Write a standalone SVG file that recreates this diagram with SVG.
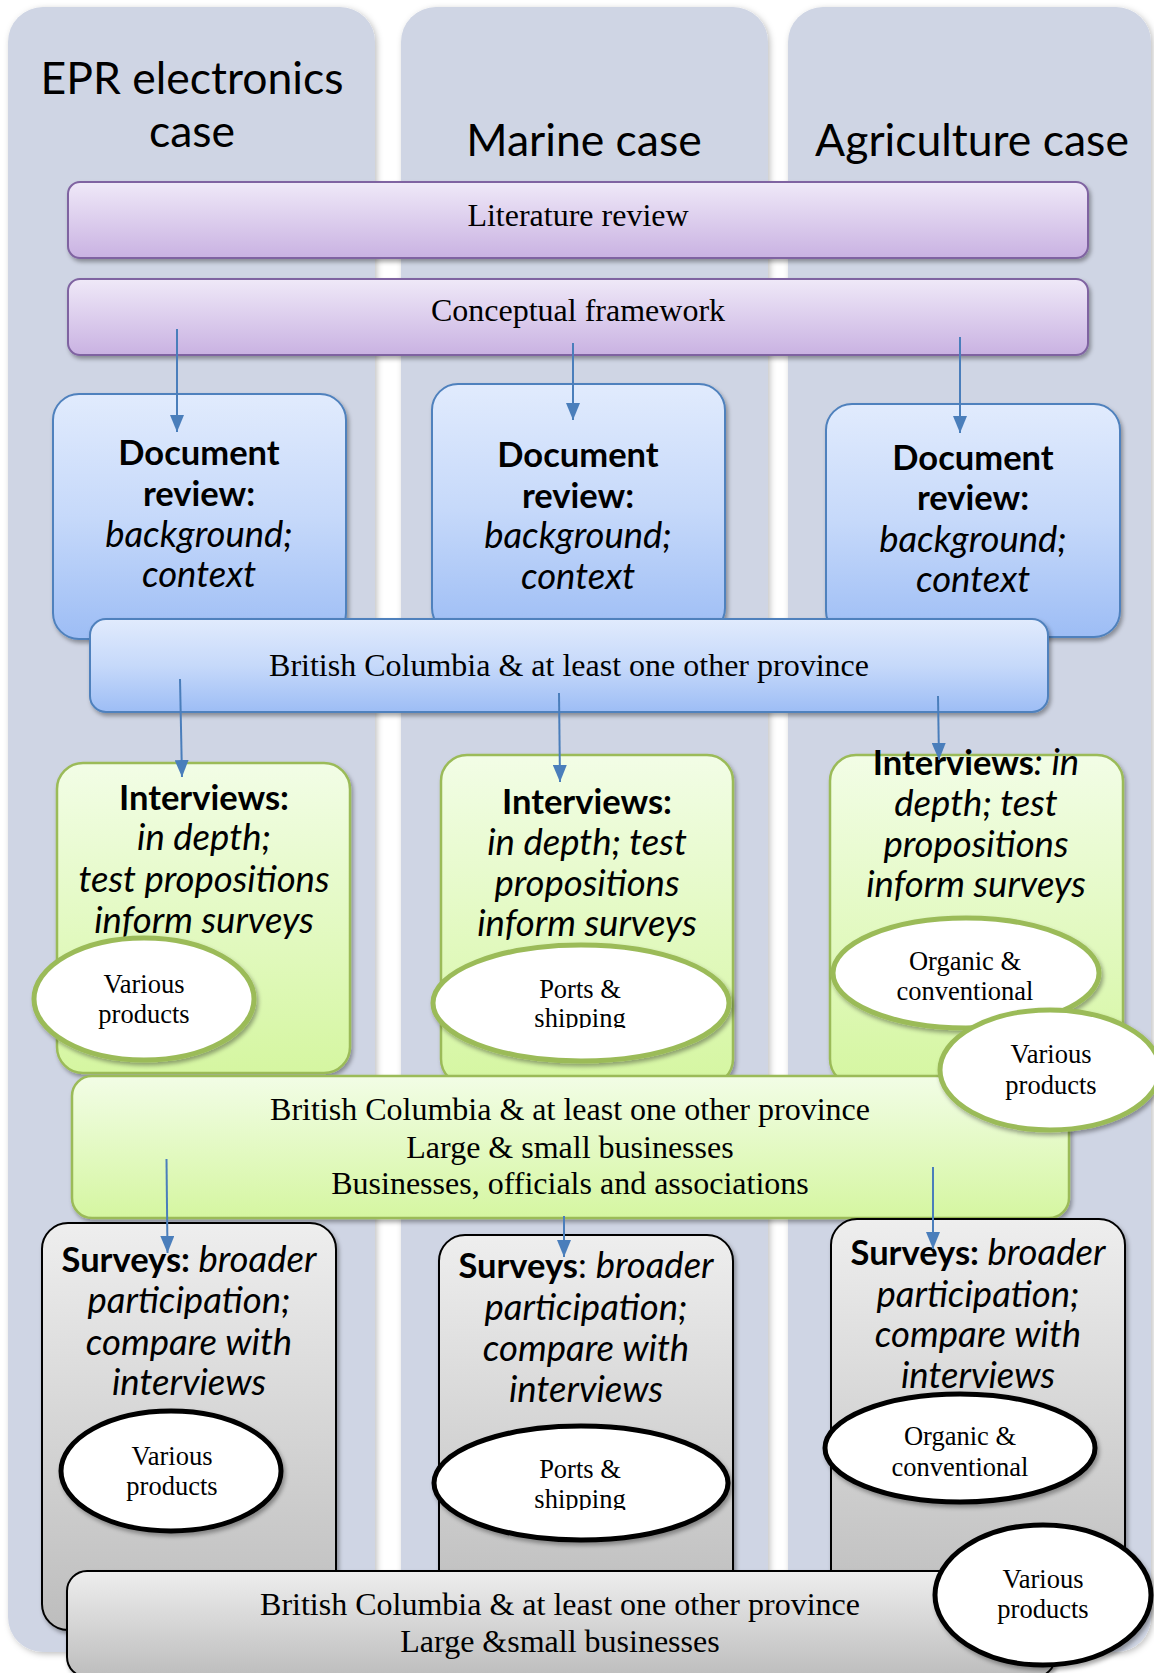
<svg xmlns="http://www.w3.org/2000/svg" width="1154" height="1673" viewBox="0 0 1154 1673">
  <defs>
    <linearGradient id="gPurple" x1="0" y1="0" x2="0" y2="1">
      <stop offset="0" stop-color="#EFE9F8"/>
      <stop offset="1" stop-color="#C9B2E2"/>
    </linearGradient>
    <linearGradient id="gBlue" x1="0" y1="0" x2="0" y2="1">
      <stop offset="0" stop-color="#E1EBFD"/>
      <stop offset="0.5" stop-color="#C6D9FA"/>
      <stop offset="1" stop-color="#9DBDF5"/>
    </linearGradient>
    <linearGradient id="gGreen" x1="0" y1="0" x2="0" y2="1">
      <stop offset="0" stop-color="#F2FDE6"/>
      <stop offset="1" stop-color="#D5F6A1"/>
    </linearGradient>
    <linearGradient id="gGray" x1="0" y1="0" x2="0" y2="1">
      <stop offset="0" stop-color="#EEEEEE"/>
      <stop offset="1" stop-color="#BDBDBD"/>
    </linearGradient>
    <filter id="shadow" x="-5%" y="-5%" width="115%" height="120%">
      <feDropShadow dx="2" dy="3" stdDeviation="2" flood-color="#000" flood-opacity="0.35"/>
    </filter>
    <filter id="colShadow" x="-5%" y="-5%" width="115%" height="110%">
      <feDropShadow dx="2" dy="2" stdDeviation="3" flood-color="#000" flood-opacity="0.25"/>
    </filter>
    <marker id="arrow" markerUnits="userSpaceOnUse" markerWidth="17" markerHeight="14" refX="17" refY="7" orient="auto">
      <path d="M0,0 L17,7 L0,14 z" fill="#4A7EBB"/>
    </marker>
    <clipPath id="clipShipA"><rect x="400" y="940" width="360" height="88"/></clipPath>
    <clipPath id="clipShipB"><rect x="400" y="1420" width="360" height="90"/></clipPath>
    <style>
      .col { fill: #CFD5E4; filter: url(#colShadow); }
      .title { font-family: Lato, "Open Sans", sans-serif; font-size: 44.5px; fill: #000; text-anchor: middle; }
      .purple { fill: url(#gPurple); stroke: #7F63A1; stroke-width: 2; filter: url(#shadow); }
      .blue { fill: url(#gBlue); stroke: #4F81BD; stroke-width: 2; filter: url(#shadow); }
      .green { fill: url(#gGreen); stroke: #9BBB59; stroke-width: 2.5; filter: url(#shadow); }
      .gray { fill: url(#gGray); stroke: #000; stroke-width: 2; filter: url(#shadow); }
      .ovG { fill: #fff; stroke: #9BBB59; stroke-width: 5; filter: url(#shadow); }
      .ovK { fill: #fff; stroke: #000; stroke-width: 5; filter: url(#shadow); }
      .serif { font-family: "Liberation Serif", "Times New Roman", serif; font-size: 32px; fill: #000; text-anchor: middle; }
      .oval { font-family: "Liberation Serif", "Times New Roman", serif; font-size: 26.5px; fill: #000; text-anchor: middle; }
      .cal { font-family: Lato, "Open Sans", sans-serif; font-size: 35px; fill: #000; text-anchor: middle; }
      .b { font-weight: bold; font-size: 34.5px; }
      .i { font-style: italic; font-size: 36.5px; }
      .conn line { stroke: #4A7EBB; stroke-width: 2; marker-end: url(#arrow); }
    </style>
  </defs>

  <rect width="1154" height="1673" fill="#fff"/>

  <!-- case columns -->
  <g id="col-epr">
    <rect class="col" x="8" y="7" width="367" height="1645" rx="35"/>
    <text class="title" x="192" y="94">EPR electronics</text>
    <text class="title" x="192" y="147">case</text>
  </g>
  <g id="col-marine">
    <rect class="col" x="401" y="7" width="367" height="1645" rx="35"/>
    <text class="title" x="584" y="156">Marine case</text>
  </g>
  <g id="col-agri">
    <rect class="col" x="788" y="7" width="363" height="1645" rx="35"/>
    <text class="title" x="972" y="156">Agriculture case</text>
  </g>

  <!-- shared stages -->
  <g id="literature-review">
    <rect class="purple" x="68" y="182" width="1020" height="76" rx="12"/>
    <text class="serif" x="578" y="226">Literature review</text>
  </g>
  <g id="conceptual-framework">
    <rect class="purple" x="68" y="279" width="1020" height="76" rx="12"/>
    <text class="serif" x="578" y="321">Conceptual framework</text>
  </g>

  <!-- document review -->
  <g id="doc-epr">
    <rect class="blue" x="53" y="394" width="293" height="245" rx="26"/>
    <text class="cal b" x="199" y="465">Document</text>
    <text class="cal b" x="199" y="506">review:</text>
    <text class="cal i" x="199" y="547">background;</text>
    <text class="cal i" x="199" y="587">context</text>
  </g>
  <g id="doc-marine">
    <rect class="blue" x="432" y="384" width="293" height="250" rx="26"/>
    <text class="cal b" x="578" y="467">Document</text>
    <text class="cal b" x="578" y="508">review:</text>
    <text class="cal i" x="578" y="548">background;</text>
    <text class="cal i" x="578" y="589">context</text>
  </g>
  <g id="doc-agri">
    <rect class="blue" x="826" y="404" width="294" height="233" rx="26"/>
    <text class="cal b" x="973" y="470">Document</text>
    <text class="cal b" x="973" y="510">review:</text>
    <text class="cal i" x="973" y="552">background;</text>
    <text class="cal i" x="973" y="592">context</text>
  </g>
  <g id="scope-docs">
    <rect class="blue" x="90" y="619" width="958" height="93" rx="16"/>
    <text class="serif" x="569" y="676">British Columbia &amp; at least one other province</text>
  </g>

  <!-- interviews -->
  <g id="int-epr">
    <rect class="green" x="57" y="763" width="293" height="310" rx="26"/>
    <text class="cal b" x="204" y="810">Interviews:</text>
    <text class="cal i" x="204" y="850">in depth;</text>
    <text class="cal i" x="204" y="892">test propositions</text>
    <text class="cal i" x="204" y="933">inform surveys</text>
  </g>
  <g id="int-marine">
    <rect class="green" x="441" y="755" width="292" height="330" rx="26"/>
    <text class="cal b" x="587" y="814">Interviews:</text>
    <text class="cal i" x="587" y="855">in depth; test</text>
    <text class="cal i" x="587" y="896">propositions</text>
    <text class="cal i" x="587" y="936">inform surveys</text>
  </g>
  <g id="int-agri">
    <rect class="green" x="830" y="755" width="293" height="330" rx="26"/>
    <text class="cal" x="976" y="775"><tspan class="b">Interviews</tspan><tspan class="i">: in</tspan></text>
    <text class="cal i" x="976" y="816">depth; test</text>
    <text class="cal i" x="976" y="857">propositions</text>
    <text class="cal i" x="976" y="897">inform surveys</text>
  </g>
  <g id="int-epr-products">
    <ellipse class="ovG" cx="144" cy="999" rx="110" ry="61"/>
    <text class="oval" x="144" y="993">Various</text>
    <text class="oval" x="144" y="1023">products</text>
  </g>
  <g id="int-marine-ports">
    <ellipse class="ovG" cx="581" cy="1003" rx="148" ry="58"/>
    <g clip-path="url(#clipShipA)">
      <text class="oval" x="580" y="998">Ports &amp;</text>
      <text class="oval" x="580" y="1027">shipping</text>
    </g>
  </g>
  <g id="int-agri-organic">
    <ellipse class="ovG" cx="966" cy="973" rx="133" ry="55"/>
    <text class="oval" x="965" y="970">Organic &amp;</text>
    <text class="oval" x="965" y="1000">conventional</text>
  </g>
  <g id="scope-interviews">
    <rect class="green" x="72" y="1076" width="997" height="142" rx="20"/>
    <text class="serif" x="570" y="1120">British Columbia &amp; at least one other province</text>
    <text class="serif" x="570" y="1158">Large &amp; small businesses</text>
    <text class="serif" x="570" y="1194">Businesses, officials and associations</text>
  </g>
  <g id="int-agri-products">
    <ellipse class="ovG" cx="1050" cy="1070" rx="110" ry="60"/>
    <text class="oval" x="1051" y="1063">Various</text>
    <text class="oval" x="1051" y="1094">products</text>
  </g>

  <!-- surveys -->
  <g id="srv-epr">
    <rect class="gray" x="42" y="1223" width="294" height="407" rx="26"/>
    <text class="cal" x="189" y="1272"><tspan class="b">Surveys:</tspan><tspan class="i"> broader</tspan></text>
    <text class="cal i" x="189" y="1313">participation;</text>
    <text class="cal i" x="189" y="1355">compare with</text>
    <text class="cal i" x="189" y="1395">interviews</text>
  </g>
  <g id="srv-marine">
    <rect class="gray" x="439" y="1235" width="294" height="380" rx="26"/>
    <text class="cal" x="586" y="1278"><tspan class="b">Surveys</tspan>: <tspan class="i">broader</tspan></text>
    <text class="cal i" x="586" y="1320">participation;</text>
    <text class="cal i" x="586" y="1361">compare with</text>
    <text class="cal i" x="586" y="1402">interviews</text>
  </g>
  <g id="srv-agri">
    <rect class="gray" x="831" y="1219" width="294" height="400" rx="26"/>
    <text class="cal" x="978" y="1265"><tspan class="b">Surveys:</tspan><tspan class="i"> broader</tspan></text>
    <text class="cal i" x="978" y="1307">participation;</text>
    <text class="cal i" x="978" y="1347">compare with</text>
    <text class="cal i" x="978" y="1388">interviews</text>
  </g>
  <g id="srv-epr-products">
    <ellipse class="ovK" cx="171" cy="1471" rx="110" ry="60"/>
    <text class="oval" x="172" y="1465">Various</text>
    <text class="oval" x="172" y="1495">products</text>
  </g>
  <g id="srv-marine-ports">
    <ellipse class="ovK" cx="581" cy="1483" rx="147" ry="57"/>
    <g clip-path="url(#clipShipB)">
      <text class="oval" x="580" y="1478">Ports &amp;</text>
      <text class="oval" x="580" y="1508">shipping</text>
    </g>
  </g>
  <g id="srv-agri-organic">
    <ellipse class="ovK" cx="960" cy="1448" rx="135" ry="54"/>
    <text class="oval" x="960" y="1445">Organic &amp;</text>
    <text class="oval" x="960" y="1476">conventional</text>
  </g>
  <g id="scope-surveys">
    <rect class="gray" x="67" y="1571" width="988" height="106" rx="20"/>
    <text class="serif" x="560" y="1615">British Columbia &amp; at least one other province</text>
    <text class="serif" x="560" y="1652">Large &amp;small businesses</text>
  </g>
  <g id="srv-agri-products">
    <ellipse class="ovK" cx="1043" cy="1595" rx="108" ry="70"/>
    <text class="oval" x="1043" y="1588">Various</text>
    <text class="oval" x="1043" y="1618">products</text>
  </g>

  <!-- connectors -->
  <g id="connectors" class="conn">
    <line x1="177" y1="329" x2="177" y2="432"/>
    <line x1="573" y1="343" x2="573" y2="420"/>
    <line x1="960" y1="337" x2="960" y2="433"/>
    <line x1="180" y1="679" x2="182" y2="777"/>
    <line x1="559" y1="693" x2="560" y2="782"/>
    <line x1="938" y1="696" x2="939" y2="760"/>
    <line x1="166.5" y1="1159" x2="167.5" y2="1253"/>
    <line x1="564" y1="1216" x2="564" y2="1257"/>
    <line x1="933" y1="1167" x2="933" y2="1249"/>
  </g>
</svg>
